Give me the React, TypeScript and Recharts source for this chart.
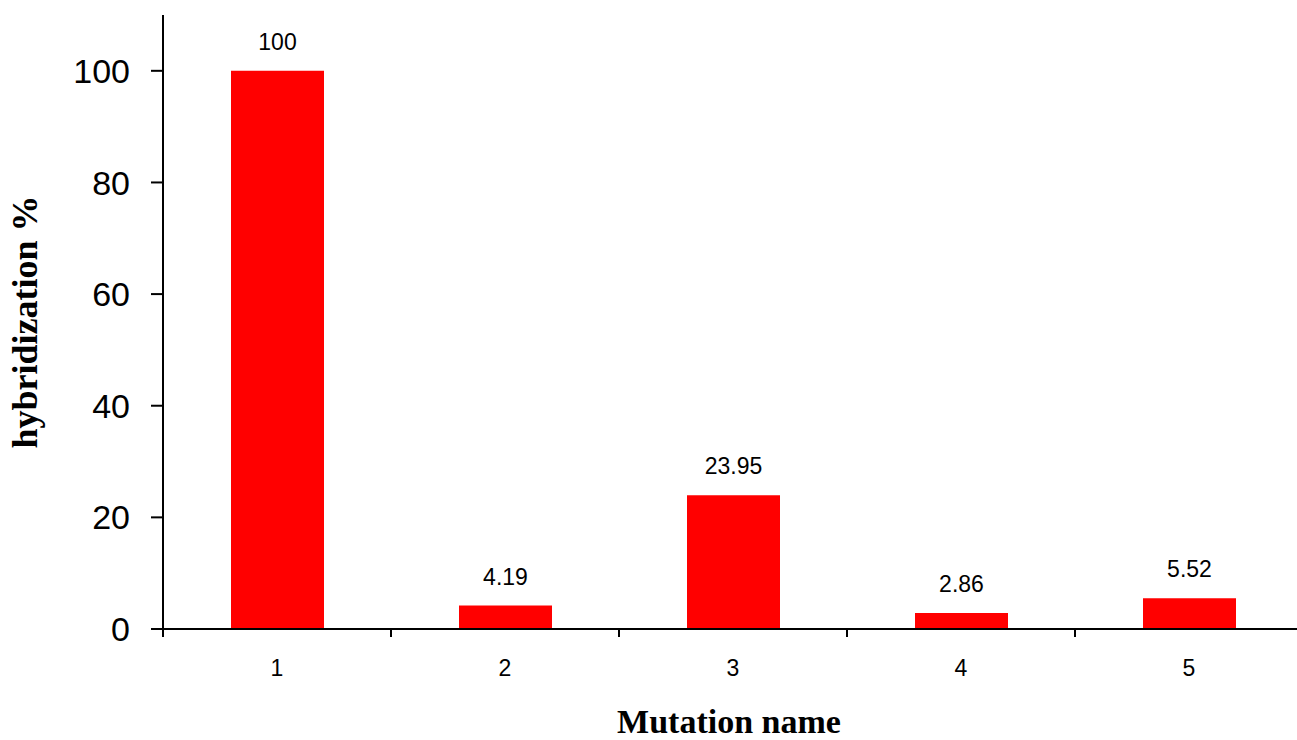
import React from "react";
import { BarChart, Bar, XAxis, YAxis, LabelList, Label } from "recharts";

const mutations = ["1", "2", "3", "4", "5"];
const hybridization = [100, 4.19, 23.95, 2.86, 5.52];
const yTicks = [0, 20, 40, 60, 80, 100];

const data = mutations.map((name, i) => ({ name, value: hybridization[i] }));

// eslint-disable-next-line @typescript-eslint/no-explicit-any
const CategoryTick = (props: any) => {
    const { x, y, payload, index, visibleTicksCount, width } = props;
    const half = payload.offset || width / visibleTicksCount / 2;
    const last = index === visibleTicksCount - 1;
    return (
        <g>
            <line x1={x - half} y1={y - 8} x2={x - half} y2={y} stroke="#000" strokeWidth={2} />
            {last && <line x1={x + half} y1={y - 8} x2={x + half} y2={y} stroke="#000" strokeWidth={2} />}
            <text x={x} y={y + 39} textAnchor="middle" fontSize={23} fontFamily="Arial, 'Liberation Sans'" fill="#000">
                {payload.value}
            </text>
        </g>
    );
};

export default function App() {
    // the plot runs a little past the right edge of the picture, as in the original
    return (
        <div style={{ position: "absolute", left: 0, top: 0, width: 1297, height: 740, overflow: "hidden", background: "#fff" }}>
            <BarChart
                width={1303}
                height={740}
                data={data}
                margin={{ top: 15, right: 0, bottom: 0, left: 0 }}
                barSize={93}
            >
                <XAxis
                    dataKey="name"
                    height={111}
                    axisLine={{ stroke: "#000", strokeWidth: 2 }}
                    tickLine={false}
                    tickSize={8}
                    tickMargin={0}
                    tick={<CategoryTick />}
                    interval={0}
                >
                    <Label
                        content={() => (
                            <text
                                x={729}
                                y={733}
                                textAnchor="middle"
                                fontSize={34}
                                fontWeight="bold"
                                fontFamily="'Times New Roman', 'Liberation Serif', serif"
                                fill="#000"
                            >
                                Mutation name
                            </text>
                        )}
                    />
                </XAxis>
                <YAxis
                    width={163}
                    domain={[0, 110]}
                    ticks={yTicks}
                    axisLine={{ stroke: "#000", strokeWidth: 2 }}
                    tickLine={{ stroke: "#000", strokeWidth: 2 }}
                    tickSize={12}
                    tickMargin={21}
                    tick={{ fontSize: 34, fill: "#000", fontFamily: "Arial, 'Liberation Sans'" }}
                >
                    <Label
                        content={({ viewBox }: any) => {
                            const cx = 37;
                            const cy = viewBox.y + viewBox.height / 2;
                            return (
                                <text
                                    x={cx}
                                    y={cy}
                                    transform={`rotate(-90, ${cx}, ${cy})`}
                                    textAnchor="middle"
                                    fontSize={36}
                                    fontWeight="bold"
                                    fontFamily="'Times New Roman', 'Liberation Serif', serif"
                                    fill="#000"
                                >
                                    hybridization %
                                </text>
                            );
                        }}
                    />
                </YAxis>
                <Bar dataKey="value" fill="#ff0000" isAnimationActive={false}>
                    <LabelList
                        dataKey="value"
                        position="top"
                        offset={21}
                        fontSize={23}
                        fill="#000"
                        fontFamily="Arial, 'Liberation Sans'"
                    />
                </Bar>
            </BarChart>
        </div>
    );
}
